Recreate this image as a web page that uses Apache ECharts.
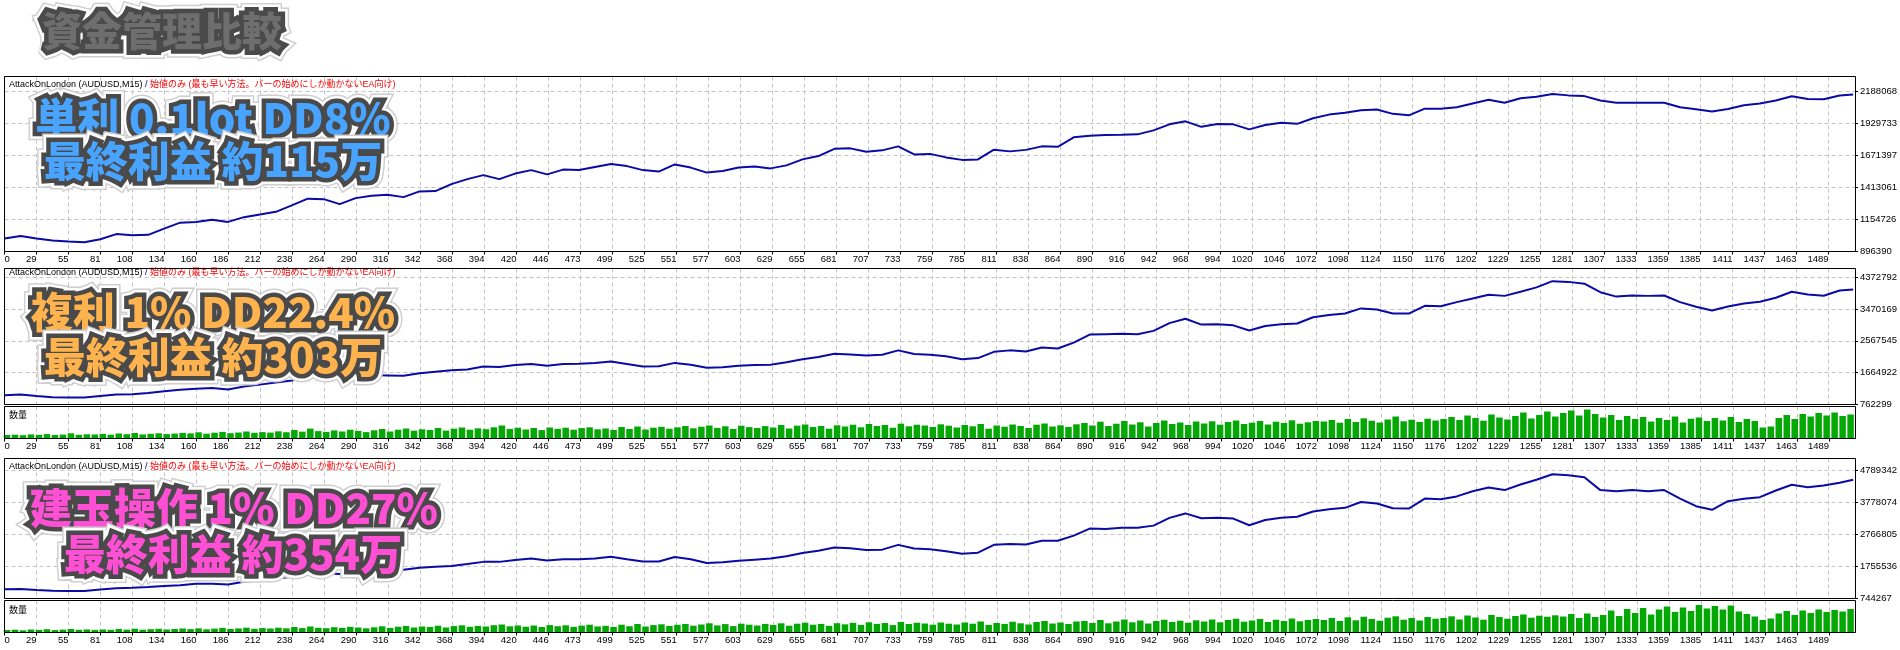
<!DOCTYPE html>
<html><head><meta charset="utf-8">
<script src="https://cdn.jsdelivr.net/npm/echarts@6/dist/echarts.min.js"></script>
<style>html,body{margin:0;padding:0;background:#fff}#c{width:1900px;height:650px}</style>
</head><body><div id="c"></div><script>
// ---- x axis (trade number) ----
const X_LABELS = ['0','29','55','81','108','134','160','186','212','238','264','290','316','342','368','394','420','446','473','499','525','551','577','603','629','655','681','707','733','759','785','811','838','864','890','916','942','968','994','1020','1046','1072','1098','1124','1150','1176','1202','1229','1255','1281','1307','1333','1359','1385','1411','1437','1463','1489'];
const X_MIN = 2.93, X_STEP = 26.0714, X_MAX = 1510.5;

// ---- y tick labels ----
const Y1_LABELS = ['896390','1154726','1413061','1671397','1929733','2188068'];
const Y2_LABELS = ['762299','1664922','2567545','3470169','4372792'];
const Y3_LABELS = ['744267','1755536','2766805','3778074','4789342'];

// sampled trade numbers for the equity curves (every 13 trades) and the last trade
const EQ_TRADES = [];
for (let t = 3; t <= 1498; t += 13) EQ_TRADES.push(t);
EQ_TRADES.push(1509);

// ---- equity curves (balance, JPY) ----
const EQ_SIMPLE = [
1000800,1021700,1000800,985900,976900,971000,994800,1036600,1027700,1030600,
1081300,1129100,1135000,1152900,1135000,1173300,1195100,1216100,1267800,1322600,
1318600,1278200,1326700,1346800,1353300,1334800,1380800,1383200,1439700,1480100,
1512400,1480100,1524500,1552700,1518000,1556800,1552700,1576900,1601200,1585000,
1552700,1540600,1598700,1572900,1532500,1544700,1572900,1582600,1566500,1590700,
1639100,1665700,1723900,1727900,1701300,1711800,1744100,1679500,1683500,1655200,
1635100,1639100,1717400,1703700,1715800,1744100,1740000,1816700,1828800,1835300,
1836900,1840900,1872800,1921700,1945900,1901500,1924100,1921700,1881300,1916600,
1934500,1925500,1970300,2000100,2015000,2035900,2041900,2006100,1994200,2047800,
2047800,2059800,2089600,2119400,2095600,2131400,2143300,2167100,2155200,2149300,
2113500,2095600,2095600,2095600,2095600,2059800,2043700,2025200,2046100,2076000,
2089700,2113900,2148500,2126700,2124300,2154200,2162300];
const EQ_COMPOUND = [
1023200,1044000,1002300,971000,960600,960600,1002300,1044000,1054500,1085800,
1138000,1179700,1211000,1231900,1190200,1273600,1325800,1388400,1440600,1524100,
1545000,1482400,1555400,1597100,1586700,1576200,1649300,1691000,1732800,1753600,
1837100,1826700,1878900,1910100,1858000,1910100,1920600,1941500,1983200,1910100,
1837100,1847500,1941500,1889300,1805800,1816200,1858000,1878900,1889300,1962300,
2045800,2108400,2202300,2181500,2150200,2171000,2296300,2192000,2171000,2129300,
2045800,2077100,2254500,2296300,2265000,2379700,2348400,2515400,2745000,2755400,
2765800,2755400,2849400,3068500,3193700,3026800,3037200,3005900,2859800,2985000,
3037200,3058100,3235500,3298100,3339800,3485900,3454600,3339800,3339800,3558900,
3548500,3663300,3767600,3872000,3840700,3955500,4080700,4258100,4237300,4185100,
3945100,3819800,3851100,3840700,3851100,3663300,3531000,3426000,3540000,3625000,
3673000,3786000,3956000,3880000,3843000,3993000,4021000];
const EQ_POSITION = [
1036600,1048300,1013200,989800,978100,978100,1024900,1071600,1083300,1106700,
1141800,1165200,1211900,1211900,1188600,1270400,1328900,1375600,1434100,1527600,
1539300,1515900,1539300,1597700,1632800,1656200,1714600,1749700,1773100,1831500,
1901700,1901700,1960200,2006900,1948500,1983500,1983500,2006900,2065400,1983500,
1913400,1913400,2053700,1983500,1866600,1890000,1936800,1971800,2006900,2077100,
2182300,2252400,2357700,2334300,2275800,2287500,2439500,2322600,2299200,2240700,
2158900,2193900,2439500,2462900,2451200,2568100,2568100,2731800,2953900,2942200,
2977300,2977300,3047400,3292900,3433200,3281200,3292900,3269500,3059100,3222800,
3292900,3328000,3491700,3561800,3608600,3795600,3748900,3596900,3585200,3900800,
3877400,3970900,4134600,4251500,4169700,4345000,4497000,4672400,4637300,4578900,
4169700,4134600,4169700,4134600,4169700,3900800,3661000,3547000,3819000,3895000,
3946000,4157000,4337000,4262000,4315000,4401000,4495000];

// sampled trade numbers for volume bars (every 6.5 trades)
const VOL_TRADES = [];
for (let i = 0; i < 232; i++) VOL_TRADES.push(5 + 6.5 * i);

// ---- volumes (lots) ----
const VOL_COMPOUND = [
0.35,0.38,0.33,0.41,0.36,0.44,0.35,0.39,0.52,0.37,0.42,0.40,
0.46,0.38,0.50,0.43,0.55,0.41,0.47,0.52,0.44,0.49,0.56,
0.51,0.62,0.48,0.58,0.66,0.53,0.60,0.70,0.57,0.64,0.59,
0.72,0.63,0.85,0.68,0.99,0.74,0.66,0.81,0.70,0.88,0.76,0.64,
0.82,0.95,0.70,0.88,1.00,0.78,0.92,
0.85,1.05,0.79,0.98,1.10,0.88,1.02,0.93,1.12,1.30,0.96,1.08,
0.90,1.05,0.84,1.10,0.97,1.08,0.88,1.04,1.12,0.92,1.00,
0.86,1.15,0.95,1.20,0.90,1.08,1.17,0.98,1.12,
1.25,1.02,1.18,1.30,1.06,1.22,0.96,1.28,1.14,1.05,1.24,
1.10,1.35,1.00,1.28,1.40,1.15,1.25,0.98,1.32,1.20,1.38,
1.12,1.45,1.25,1.35,1.08,1.48,1.22,1.38,1.30,1.15,1.42,1.28,
1.10,1.35,1.22,1.45,0.98,1.30,1.18,1.40,1.25,1.05,1.38,1.50,1.20,1.32,1.15,1.42,
1.55,1.30,1.68,1.25,1.48,1.75,1.40,1.62,1.20,1.55,1.80,1.45,1.60,1.35,1.70,
1.50,1.72,1.38,1.65,1.80,1.45,1.58,1.75,1.40,1.68,1.55,1.82,1.48,1.62,1.75,
1.70,1.85,1.58,1.95,1.65,2.02,1.78,1.60,1.90,2.20,1.72,1.88,1.66,1.98,1.80,
1.95,2.15,1.85,2.30,2.05,1.78,2.40,2.10,1.90,2.25,2.60,2.00,2.35,2.70,2.20,
2.55,2.80,2.30,2.90,2.45,
2.10,2.35,1.85,2.25,
1.95,2.15,1.70,2.05,1.85,2.20,1.60,1.98,2.10,1.75,
2.05,1.80,2.15,1.65,1.95,1.75,
1.10,1.20,
2.05,2.35,1.95,2.45,2.20,2.55,2.30,2.60,2.25,2.40];
const VOL_POSITION = [
0.25,0.28,0.22,0.30,0.26,0.33,0.24,0.29,0.35,0.27,0.31,0.26,
0.30,0.27,0.36,0.29,0.38,0.28,0.33,0.37,0.30,0.35,0.40,
0.34,0.42,0.32,0.39,0.46,0.35,0.41,0.48,0.37,0.44,0.40,
0.48,0.42,0.55,0.44,0.60,0.47,0.43,0.53,0.46,0.57,0.50,0.42,
0.52,0.62,0.46,0.58,0.65,0.50,0.60,
0.55,0.68,0.50,0.64,0.72,0.57,0.66,0.60,0.73,0.80,0.62,0.70,
0.58,0.70,0.55,0.74,0.63,0.72,0.57,0.69,0.78,0.61,0.67,
0.56,0.78,0.63,0.85,0.60,0.74,0.82,0.66,0.77,
0.85,0.68,0.80,0.92,0.71,0.84,0.64,0.88,0.78,0.70,0.86,
0.75,0.92,0.68,0.88,0.98,0.78,0.86,0.67,0.93,0.82,0.97,
0.76,1.02,0.86,0.95,0.74,1.05,0.85,0.98,0.90,0.78,1.00,0.88,
0.80,1.00,0.88,1.10,0.76,0.95,0.86,1.08,0.92,0.80,1.05,1.15,0.90,1.00,0.85,1.10,
1.15,0.95,1.25,0.92,1.10,1.30,1.02,1.20,0.90,1.15,1.28,1.05,1.18,0.98,1.22,
1.10,1.30,1.02,1.25,1.38,1.08,1.20,1.35,1.05,1.28,1.15,1.40,1.12,1.25,1.35,
1.25,1.45,1.15,1.52,1.22,1.58,1.35,1.18,1.48,1.62,1.28,1.45,1.20,1.55,1.38,
1.45,1.62,1.30,1.70,1.50,1.28,1.75,1.55,1.38,1.65,1.80,1.48,1.68,1.58,1.72,
1.60,1.85,1.45,1.90,1.55,
1.75,2.20,1.65,2.35,
1.95,2.45,1.80,2.30,2.60,2.05,2.50,2.15,2.75,2.40,
2.65,2.30,2.70,2.10,1.85,1.60,
1.25,1.40,
1.90,2.15,1.75,2.20,1.95,2.30,2.05,2.25,2.10,2.35];

// ---- y axis scales (bottom value, gridline step, top of plot) ----
const Y1 = {min: 896390, step: 258335.6, max: 2307419, labels: Y1_LABELS};
const Y2 = {min: 762299, step: 902623.25, max: 4616500, labels: Y2_LABELS};
const Y3 = {min: 744267, step: 1011268.75, max: 5168568, labels: Y3_LABELS};
const VOL_MAX = 3.2;

// ---- texts ----
const TITLE = '資金管理比較';
const HEAD_A = 'AttackOnLondon (AUDUSD,M15)';
const HEAD_B = '/';
const HEAD_C = '始値のみ (最も早い方法。バーの始めにしか動かないEA向け)';
const VOL_NAME = '数量';
const CAPTIONS = [
  ['単利 0.1lot DD8%', '最終利益 約115万', '#48a4ff'],
  ['複利 1% DD22.4%', '最終利益 約303万', '#ffb34f'],
  ['建玉操作 1% DD27%', '最終利益 約354万', '#ff4fd4']
];

const chart = echarts.init(document.getElementById('c'), null, {renderer: 'canvas'});
const FONT = 'Liberation Sans, Arial, sans-serif';
const GRID_LINE = {show: true, lineStyle: {color: '#c4c4c4', type: [4, 3], width: 1}};

const GRID_BOXES = [
  {left: 4.5, top: 76.5, width: 1851, height: 175},
  {left: 4.5, top: 268.5, width: 1851, height: 136},
  {left: 4.5, top: 406.5, width: 1851, height: 32},
  {left: 4.5, top: 458.5, width: 1851, height: 140},
  {left: 4.5, top: 600.5, width: 1851, height: 32}
];
const grids = GRID_BOXES.map(g => Object.assign({}, g, {show: true, borderWidth: 0, backgroundColor: '#fff'}));

const labelled = [true, false, true, false, true];
const xAxes = grids.map((g, i) => ({
  gridIndex: i, type: 'value', min: X_MIN, max: X_MAX, interval: X_STEP,
  axisLine: {show: false},
  axisTick: {show: labelled[i], length: 3, lineStyle: {color: '#000'}},
  axisLabel: {
    show: labelled[i], align: 'right', margin: 3, fontSize: 9.5, fontFamily: FONT, color: '#000',
    showMinLabel: true, showMaxLabel: false, alignMinLabel: 'left',
    formatter: v => { const k = Math.round((v - X_MIN) / X_STEP); return X_LABELS[k] !== undefined ? X_LABELS[k] : ''; }
  },
  splitLine: GRID_LINE
}));

function mainY(i, s) {
  return {
    gridIndex: i, type: 'value', position: 'right', min: s.min, max: s.max, interval: s.step,
    axisLine: {show: false},
    axisTick: {show: true, length: 3, lineStyle: {color: '#000'}},
    axisLabel: {margin: 5, fontSize: 9.5, fontFamily: FONT, color: '#000', showMaxLabel: false, showMinLabel: true,
      formatter: v => { const k = Math.round((v - s.min) / s.step); return s.labels[k] !== undefined ? s.labels[k] : ''; }},
    splitLine: GRID_LINE
  };
}
function volY(i) {
  return {gridIndex: i, type: 'value', min: 0, max: VOL_MAX, axisLine: {show: false}, axisTick: {show: false},
    axisLabel: {show: false}, splitLine: {show: false}};
}
const yAxes = [mainY(0, Y1), mainY(1, Y2), volY(2), mainY(3, Y3), volY(4)];

function lineSeries(idx, vals) {
  return {type: 'line', xAxisIndex: idx, yAxisIndex: idx, showSymbol: false, symbol: 'none',
    lineStyle: {color: '#0a0aa5', width: 2}, data: EQ_TRADES.map((t, i) => [t, vals[i]]), z: 3};
}
function barSeries(idx, vals) {
  return {type: 'bar', xAxisIndex: idx, yAxisIndex: idx, barWidth: 6.5,
    itemStyle: {color: '#04a804'}, data: VOL_TRADES.map((t, i) => [t, vals[i]])};
}

function outlined(text, x, y, size, fill, z) {
  const font = `900 ${size}px "Noto Sans CJK JP", sans-serif`;
  const base = {text, x, y, font, textAlign: 'center', textVerticalAlign: 'middle', verticalAlign: 'middle', lineJoin: 'round'};
  return [
    {type: 'text', z: z, silent: true, style: Object.assign({}, base, {fill: '#cfcfcf', stroke: '#cfcfcf', lineWidth: 17})},
    {type: 'text', z: z + 1, silent: true, style: Object.assign({}, base, {fill: '#ffffff', stroke: '#ffffff', lineWidth: 14})},
    {type: 'text', z: z + 2, silent: true, style: Object.assign({}, base, {fill: '#4a4a4a', stroke: '#4a4a4a', lineWidth: 9})},
    {type: 'text', z: z + 3, silent: true, style: Object.assign({}, base, {fill: fill})}
  ];
}

function header(y) {
  return {type: 'text', z: 50, silent: true, style: {
    text: `{a|${HEAD_A}} {b|${HEAD_B}} {c|${HEAD_C}}`, x: 9, y: y, textVerticalAlign: 'middle', verticalAlign: 'middle',
    font: `9px ${FONT}`,
    rich: {
      a: {fill: '#000', font: `9px ${FONT}`},
      b: {fill: '#000080', font: `9px ${FONT}`},
      c: {fill: '#ff0000', font: `9px ${FONT}, "Noto Sans CJK JP"`}
    }
  }};
}
function volLabel(y) {
  return {type: 'text', z: 50, silent: true, style: {text: VOL_NAME, x: 9, y: y, textVerticalAlign: 'middle', verticalAlign: 'middle',
    font: '9px "Noto Sans CJK JP"', fill: '#000'}};
}
const borders = GRID_BOXES.map(g => ({type: 'rect', z: 60, silent: true,
  shape: {x: g.left, y: g.top, width: g.width, height: g.height},
  style: {fill: null, stroke: '#000', lineWidth: 1}}));

const graphics = [].concat(
  borders,
  outlined(TITLE, 162, 31, 40, '#6e6e6e', 100),
  header(85), header(273), header(467),
  volLabel(415), volLabel(610),
  outlined(CAPTIONS[0][0], 213, 118, 42, CAPTIONS[0][2], 100),
  outlined(CAPTIONS[0][1], 213, 161, 42, CAPTIONS[0][2], 110),
  outlined(CAPTIONS[1][0], 213, 312, 42, CAPTIONS[1][2], 100),
  outlined(CAPTIONS[1][1], 213, 357, 42, CAPTIONS[1][2], 110),
  outlined(CAPTIONS[2][0], 234, 508, 42, CAPTIONS[2][2], 100),
  outlined(CAPTIONS[2][1], 233, 554, 42, CAPTIONS[2][2], 110)
);

chart.setOption({
  animation: false,
  backgroundColor: '#fff',
  grid: grids,
  xAxis: xAxes,
  yAxis: yAxes,
  series: [
    lineSeries(0, EQ_SIMPLE),
    lineSeries(1, EQ_COMPOUND),
    barSeries(2, VOL_COMPOUND),
    lineSeries(3, EQ_POSITION),
    barSeries(4, VOL_POSITION)
  ],
  graphic: {elements: graphics}
});
</script></body></html>
